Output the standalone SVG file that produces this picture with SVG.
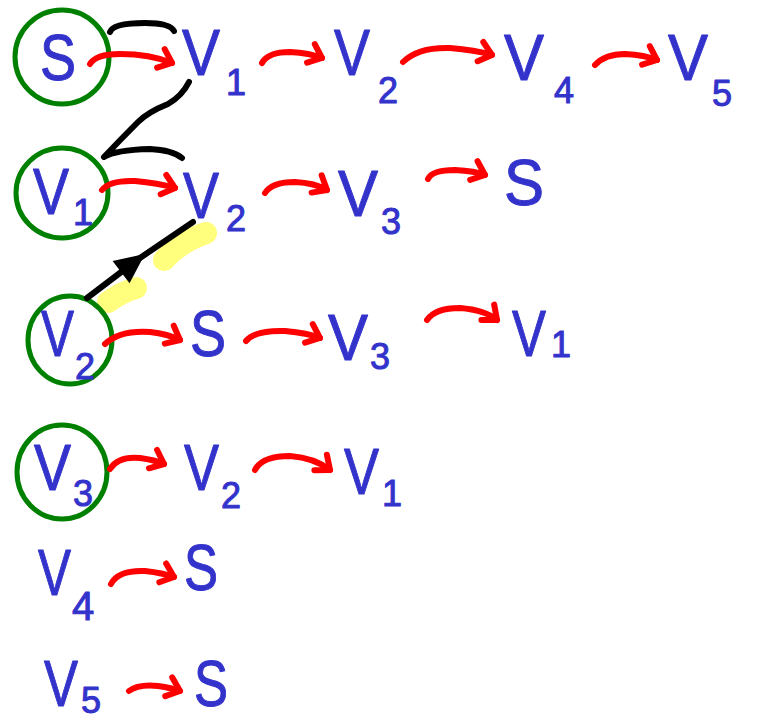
<svg xmlns="http://www.w3.org/2000/svg" width="765" height="722" viewBox="0 0 765 722">
<defs>
<marker id="ah" markerUnits="userSpaceOnUse" markerWidth="30" markerHeight="30" refX="14" refY="10" orient="auto" overflow="visible">
<path d="M2,0 L14,10 L2,20" fill="none" stroke="#ff0000" stroke-width="6" stroke-linecap="round" stroke-linejoin="round"/>
</marker>
<marker id="bh" markerUnits="userSpaceOnUse" markerWidth="40" markerHeight="40" refX="20" refY="14" orient="auto" overflow="visible">
<path d="M0,0 L30,14 L0,28 Z" fill="#000"/>
</marker>
</defs>
<style>
.t{font-family:"Liberation Sans","DejaVu Sans",sans-serif;fill:#3333cc;stroke:#3333cc;stroke-width:1;stroke-linejoin:round}
.big{font-size:64px}
.sub{font-size:36px}
.c{fill:none;stroke:#008000;stroke-width:5}
.r{fill:none;stroke:#ff0000;stroke-width:6;stroke-linecap:round;marker-end:url(#ah)}
.k{fill:none;stroke:#000;stroke-width:6;stroke-linecap:round;stroke-linejoin:round}
.y{fill:none;stroke:#ffff66;stroke-opacity:0.85;stroke-width:22;stroke-linecap:round}
</style>
<rect width="765" height="722" fill="#fff"/>
<g id="highlights">
<path class="y" d="M164,260 Q180,242 206,233"/>
<path class="y" d="M108,302 Q122,292 136,288"/>
</g>
<g id="circles">
<ellipse class="c" cx="62" cy="57" rx="47" ry="47"/>
<ellipse class="c" cx="62" cy="193" rx="46" ry="45"/>
<ellipse class="c" cx="70" cy="340" rx="42" ry="44"/>
<ellipse class="c" cx="62" cy="472" rx="45" ry="47"/>
</g>
<g id="connectors">
<path class="r" d="M90,64 Q96,54 120,54 Q150,54 172,63"/>
<path class="r" d="M262,63 Q268,52 290,52 Q310,53 322,58"/>
<path class="r" d="M403,62 Q418,47 450,48 Q475,50 492,55"/>
<path class="r" d="M595,65 Q605,54 625,54 Q645,55 657,60"/>
<path class="r" d="M102,190 Q110,180 135,181 Q158,183 175,188"/>
<path class="r" d="M265,193 Q272,182 295,182 Q315,183 327,190"/>
<path class="r" d="M428,179 Q432,170 455,170 Q475,171 485,175"/>
<path class="r" d="M105,344 Q120,330 150,332 Q168,334 180,340"/>
<path class="r" d="M246,341 Q255,330 285,331 Q308,333 320,338"/>
<path class="r" d="M427,320 Q435,308 460,308 Q485,310 497,320"/>
<path class="r" d="M110,469 Q118,456 140,458 Q155,460 164,464"/>
<path class="r" d="M255,470 Q262,456 290,456 Q315,458 330,470"/>
<path class="r" d="M111,584 Q118,570 145,571 Q163,573 174,577"/>
<path class="r" d="M129,691 Q138,684 158,686 Q172,688 180,691"/>
<path class="k" d="M110,32 Q113,23 145,23 Q170,23 174,31"/>
<path class="k" d="M189,82 Q182,96 168,104 Q148,112 138,122 Q120,140 104,157 Q115,150 150,149 Q172,150 182,158"/>
<path class="k" d="M87,298 L137,260" marker-end="url(#bh)"/>
<path class="k" d="M137,260 L193,222"/>
</g>
<g id="row1">
<g id="n-s"><text class="t big" x="40" y="80" textLength="36" lengthAdjust="spacingAndGlyphs">S</text></g>
<g id="n1-v1"><text class="t"><tspan class="big" x="182" y="75" textLength="38" lengthAdjust="spacingAndGlyphs">V</tspan><tspan class="sub" x="226" y="95">1</tspan></text></g>
<g id="n1-v2"><text class="t"><tspan class="big" x="334" y="75" textLength="36" lengthAdjust="spacingAndGlyphs">V</tspan><tspan class="sub" x="378" y="103">2</tspan></text></g>
<g id="n1-v4"><text class="t"><tspan class="big" x="504" y="80" textLength="40" lengthAdjust="spacingAndGlyphs">V</tspan><tspan class="sub" x="554" y="103">4</tspan></text></g>
<g id="n1-v5"><text class="t"><tspan class="big" x="668" y="80" textLength="40" lengthAdjust="spacingAndGlyphs">V</tspan><tspan class="sub" x="712" y="106">5</tspan></text></g>
</g>
<g id="row2">
<g id="n-v1"><text class="t"><tspan class="big" x="33" y="214" textLength="36" lengthAdjust="spacingAndGlyphs">V</tspan><tspan class="sub" x="73" y="225">1</tspan></text></g>
<g id="n2-v2"><text class="t"><tspan class="big" x="183" y="218" textLength="36" lengthAdjust="spacingAndGlyphs">V</tspan><tspan class="sub" x="226" y="231">2</tspan></text></g>
<g id="n2-v3"><text class="t"><tspan class="big" x="338" y="216" textLength="40" lengthAdjust="spacingAndGlyphs">V</tspan><tspan class="sub" x="381" y="234">3</tspan></text></g>
<g id="n2-s"><text class="t big" x="504" y="205" textLength="40" lengthAdjust="spacingAndGlyphs">S</text></g>
</g>
<g id="row3">
<g id="n-v2"><text class="t"><tspan class="big" x="41" y="356" textLength="33" lengthAdjust="spacingAndGlyphs">V</tspan><tspan class="sub" x="75" y="379">2</tspan></text></g>
<g id="n3-s"><text class="t big" x="190" y="356" textLength="36" lengthAdjust="spacingAndGlyphs">S</text></g>
<g id="n3-v3"><text class="t"><tspan class="big" x="328" y="360" textLength="40" lengthAdjust="spacingAndGlyphs">V</tspan><tspan class="sub" x="370" y="369">3</tspan></text></g>
<g id="n3-v1"><text class="t"><tspan class="big" x="512" y="356" textLength="34" lengthAdjust="spacingAndGlyphs">V</tspan><tspan class="sub" x="551" y="357">1</tspan></text></g>
</g>
<g id="row4">
<g id="n-v3"><text class="t"><tspan class="big" x="34" y="490" textLength="37" lengthAdjust="spacingAndGlyphs">V</tspan><tspan class="sub" x="73" y="506">3</tspan></text></g>
<g id="n4-v2"><text class="t"><tspan class="big" x="184" y="490" textLength="35" lengthAdjust="spacingAndGlyphs">V</tspan><tspan class="sub" x="221" y="508">2</tspan></text></g>
<g id="n4-v1"><text class="t"><tspan class="big" x="344" y="494" textLength="35" lengthAdjust="spacingAndGlyphs">V</tspan><tspan class="sub" x="382" y="506">1</tspan></text></g>
</g>
<g id="row5">
<g id="n-v4"><text class="t"><tspan class="big" x="38" y="595" textLength="33" lengthAdjust="spacingAndGlyphs">V</tspan><tspan class="sub" x="72" y="620" style="font-size:40px">4</tspan></text></g>
<g id="n5-s"><text class="t big" x="184" y="590" textLength="34" lengthAdjust="spacingAndGlyphs">S</text></g>
</g>
<g id="row6">
<g id="n-v5"><text class="t"><tspan class="big" x="44" y="706" textLength="34" lengthAdjust="spacingAndGlyphs">V</tspan><tspan class="sub" x="81" y="713">5</tspan></text></g>
<g id="n6-s"><text class="t big" x="194" y="706" textLength="34" lengthAdjust="spacingAndGlyphs">S</text></g>
</g>
</svg>
